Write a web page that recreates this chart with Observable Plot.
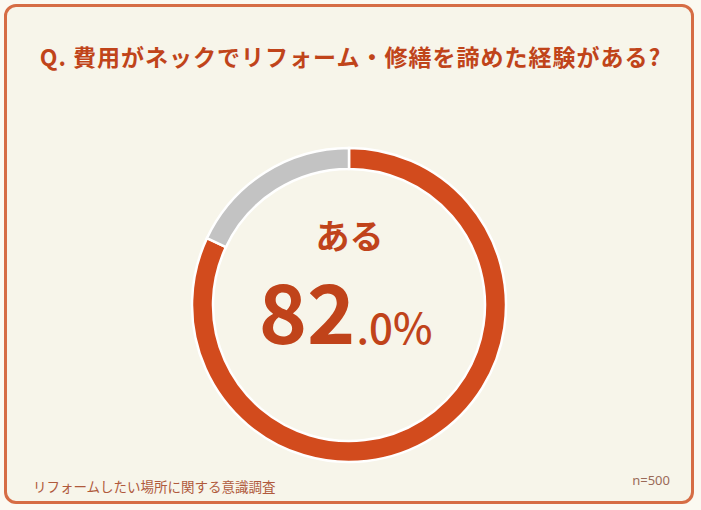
<!DOCTYPE html>
<html>
<head>
<meta charset="utf-8">
<script src="https://cdn.jsdelivr.net/npm/d3@7"></script>
<script src="https://cdn.jsdelivr.net/npm/@observablehq/plot@0.6"></script>
<style>
  html, body { margin: 0; padding: 0; background: #fbf9f1; }
  body { width: 701px; height: 510px; position: relative; overflow: hidden;
         font-family: "Noto Sans CJK JP", "Noto Sans", sans-serif; }
  #card { position: absolute; left: 4px; top: 4px; width: 690px; height: 500px;
          box-sizing: border-box; border: 3px solid #d66d45; border-radius: 12px;
          background: #f7f5ea; }
  #title { position: absolute; left: 0; top: 39px; width: 701px; text-align: center;
           font-size: 23px; font-weight: 700; color: #c0441a; letter-spacing: 1px; line-height: 34px; }
  #chart { position: absolute; left: 184px; top: 140px; }
  #source { position: absolute; left: 33px; top: 476px; font-size: 13.5px; color: #b05a3c; line-height: 20px; }
  #n { position: absolute; right: 31px; top: 470px; font-size: 13px; color: #9a6a58; line-height: 20px; font-family: "Noto Sans", sans-serif; }
</style>
</head>
<body>
<div id="card"></div>
<div id="title">Q. 費用がネックでリフォーム・修繕を諦めた経験がある?</div>
<div id="chart"></div>
<div id="source">リフォームしたい場所に関する意識調査</div>
<div id="n">n=500</div>
<script>
const categories = ["ある", "ない"];
const values = [82.0, 18.0];
const colors = ["#d24b1d", "#c3c3c3"];
const highlightLabel = "ある";
const highlightWhole = "82";
const highlightDecimal = ".0%";

const data = categories.map((c, i) => ({category: c, value: values[i], color: colors[i]}));
const pie = d3.pie().value(d => d.value).sort(null)(data);

const size = 330;
const chart = Plot.plot({
  width: size,
  height: size,
  margin: 0,
  style: {background: "transparent", overflow: "visible"},
  x: {domain: [-1, 1], axis: null},
  y: {domain: [-1, 1], axis: null},
  marks: [
    Plot.dot(pie, {
      x: () => 0, y: () => 0,
      render: (index, scales) => {
        const cx = scales.x(0), cy = scales.y(0);
        const R = (scales.x(1) - scales.x(-1)) / 2 * (157 / 165);
        const r = R - 21;
        const arc = d3.arc().innerRadius(r).outerRadius(R);
        const g = d3.create("svg:g").attr("transform", `translate(${cx},${cy})`);
        g.selectAll("path").data(Array.from(index, i => pie[i])).join("path")
          .attr("d", arc)
          .attr("fill", d => d.data.color)
          .attr("stroke", "#ffffff")
          .attr("stroke-width", 2.5);
        return g.node();
      }
    }),
    Plot.text([highlightLabel], {
      frameAnchor: "middle", text: d => d, dy: -57, lineAnchor: "bottom",
      fontSize: 34, fontWeight: 700, fill: "#c0431a"
    }),
    Plot.text([highlightWhole], {
      frameAnchor: "middle", text: d => d, dx: 6, dy: 38, lineAnchor: "bottom",
      textAnchor: "end", fontSize: 82, fontWeight: 700, fill: "#c0431a"
    }),
    Plot.text([highlightDecimal], {
      frameAnchor: "middle", text: d => d, dx: 7, dy: 38, lineAnchor: "bottom",
      textAnchor: "start", fontSize: 42, fontWeight: 500, fill: "#c0431a"
    })
  ]
});
chart.querySelectorAll("text").forEach(t => t.style.fontFamily = '"Noto Sans CJK JP", sans-serif');
document.getElementById("chart").appendChild(chart);
</script>
</body>
</html>
